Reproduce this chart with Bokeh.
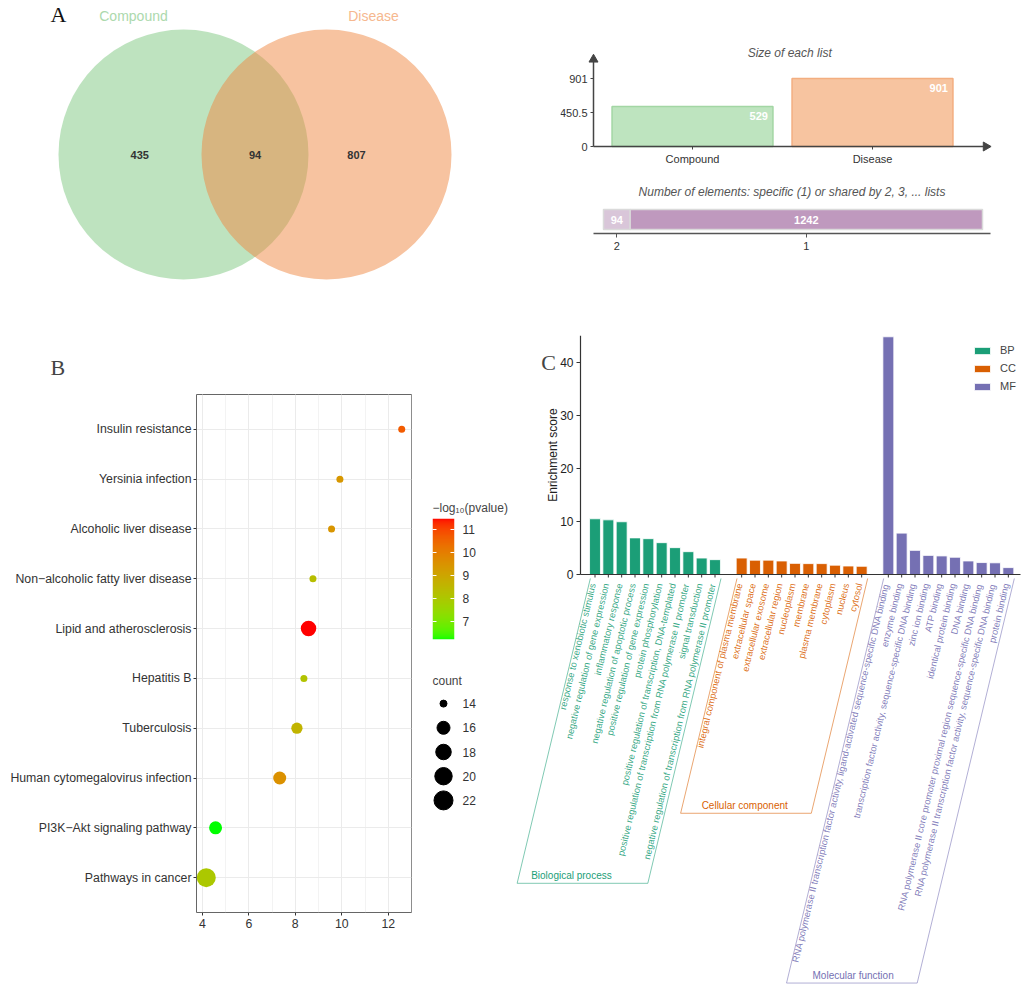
import math
import numpy as np
from bokeh.plotting import figure
from bokeh.layouts import row, column
from bokeh.models import (Range1d, FactorRange, FixedTicker, SingleIntervalTicker,
                          LinearAxis, LinearColorMapper, Label, Legend, LegendItem)
from bokeh.core.properties import value
from bokeh.embed import file_html
from bokeh.resources import INLINE

SANS = "Liberation Sans"
SERIF = "Liberation Serif"

# ================= data : panel A =================
venn_names = ["Compound", "Disease"]
venn_only = [435, 807]
venn_shared = [94]
list_names = ["Compound", "Disease"]
list_sizes = [529, 901]
list_ticks = [0, 450.5, 901]
shared_by = ["2", "1"]
shared_counts = [94, 1242]

# ================= data : panel B =================
pathways = ["Insulin resistance", "Yersinia infection", "Alcoholic liver disease",
            "Non\u2212alcoholic fatty liver disease", "Lipid and atherosclerosis",
            "Hepatitis B", "Tuberculosis", "Human cytomegalovirus infection",
            "PI3K\u2212Akt signaling pathway", "Pathways in cancer"]
path_x = [12.58, 9.92, 9.56, 8.76, 8.57, 8.37, 8.07, 7.33, 4.57, 4.17]
path_logp = [10.7, 9.4, 9.45, 8.3, 11.48, 8.15, 8.6, 9.55, 6.22, 8.0]
path_count = [14, 14, 14, 14, 18, 14, 15, 16, 16, 22]
x_breaks = [4, 6, 8, 10, 12]
logp_breaks = [7, 8, 9, 10, 11]
count_breaks = [14, 16, 18, 20, 22]

# ================= data : panel C =================
go_groups = ["BP", "CC", "MF"]
go_group_names = ["Biological process", "Cellular component", "Molecular function"]
go_colors = ["#1B9E77", "#D95F02", "#7570B3"]
bp_terms = ["response to xenobiotic stimulus", "negative regulation of gene expression",
            "inflammatory response", "negative regulation of apoptotic process",
            "positive regulation of gene expression", "protein phosphorylation",
            "positive regulation of transcription, DNA-templated",
            "positive regulation of transcription from RNA polymerase II promoter",
            "signal transduction",
            "negative regulation of transcription from RNA polymerase II promoter"]
bp_scores = [10.5, 10.3, 9.94, 6.9, 6.75, 6.0, 5.06, 4.3, 3.1, 2.8]
cc_terms = ["integral component of plasma membrane", "extracellular space",
            "extracellular exosome", "extracellular region", "nucleoplasm", "membrane",
            "plasma membrane", "cytoplasm", "nucleus", "cytosol"]
cc_scores = [3.1, 2.7, 2.7, 2.55, 2.1, 2.05, 2.05, 1.75, 1.6, 1.55]
mf_terms = ["RNA polymerase II transcription factor activity, ligand-activated sequence-specific DNA binding",
            "enzyme binding",
            "transcription factor activity, sequence-specific DNA binding",
            "zinc ion binding", "ATP binding", "identical protein binding", "DNA binding",
            "RNA polymerase II core promoter proximal region sequence-specific DNA binding",
            "RNA polymerase II transcription factor activity, sequence-specific DNA binding",
            "protein binding"]
mf_scores = [44.8, 7.8, 4.55, 3.6, 3.5, 3.25, 2.55, 2.25, 2.2, 1.3]
go_enrich_ticks = [0, 10, 20, 30, 40]


def fig(w, h, xr, yr, **kw):
    p = figure(width=w, height=h, x_range=xr, y_range=yr, x_axis_type=None,
               y_axis_type=None, output_backend="svg", toolbar_location=None, **kw)
    p.outline_line_color = None
    return p


def style_axis(ax, size="11px", color="#333333"):
    ax.major_label_text_font = SANS
    ax.major_label_text_font_size = size
    ax.major_label_text_color = color
    ax.minor_tick_line_color = None


# ---------------- colour helpers (CIELAB ramp green -> red) ----------------
_M = np.array([[0.4124564, 0.3575761, 0.1804375],
               [0.2126729, 0.7151522, 0.0721750],
               [0.0193339, 0.1191920, 0.9503041]])
_W = np.array([0.95047, 1.0, 1.08883])


def hex_to_lab(h):
    c = np.array([int(h[i:i + 2], 16) for i in (1, 3, 5)]) / 255.0
    lin = np.where(c <= 0.04045, c / 12.92, ((c + 0.055) / 1.055) ** 2.4)
    xyz = _M @ lin / _W
    f = np.where(xyz > 0.008856, np.cbrt(xyz), 7.787 * xyz + 16 / 116)
    return np.array([116 * f[1] - 16, 500 * (f[0] - f[1]), 200 * (f[1] - f[2])])


def lab_to_hex(lab):
    L, a, b = lab
    fy = (L + 16) / 116
    f = np.array([fy + a / 500, fy, fy - b / 200])
    xyz = np.where(f ** 3 > 0.008856, f ** 3, (f - 16 / 116) / 7.787) * _W
    lin = np.clip(np.linalg.inv(_M) @ xyz, 0, 1)
    c = np.where(lin <= 0.0031308, 12.92 * lin, 1.055 * lin ** (1 / 2.4) - 0.055)
    return "#%02x%02x%02x" % tuple(int(round(v * 255)) for v in np.clip(c, 0, 1))


LAB_LO, LAB_HI = hex_to_lab("#00FF00"), hex_to_lab("#FF0000")


def ramp(t):
    return lab_to_hex(LAB_LO + t * (LAB_HI - LAB_LO))


# ======================= panel A : Venn =======================
VW, VH = 548, 308
venn = fig(VW, VH, Range1d(0, VW), Range1d(VH, 0), min_border=0)
R, CY = 125, 154
CX = [183, 326]
venn.circle(x=CX, y=[CY, CY], radius=R, fill_color=["#7DC87F", "#EF8741"],
            fill_alpha=0.5, line_color=None)
num_x = [CX[0] - 0.35 * R, (CX[1] - R + CX[0] + R) / 2, CX[1] + 0.24 * R]
num_t = [str(venn_only[0]), str(venn_shared[0]), str(venn_only[1])]
venn.text(x=num_x, y=[CY] * 3, text=num_t, text_font=value(SANS), text_font_style="bold",
          text_font_size="11px", text_color="#333333", text_align="center",
          text_baseline="middle")
venn.text(x=[CX[0] - 0.4 * R, CX[1] + 0.376 * R], y=[CY - R - 14] * 2, text=venn_names,
          text_font=value(SANS), text_font_size="14px", text_color=["#ACD9AD", "#F6B88F"],
          text_align="center", text_baseline="middle")
venn.text(x=[58], y=[1], text=["A"], text_font=value(SERIF), text_font_size="22px",
          text_color="#111111", text_align="center", text_baseline="top")

# ======================= panel A : size of each list =======================
S_AX, S_PX, S_PY = -0.55, 180.0, 68 / 901
size_fig = fig(476, 178, Range1d(S_AX - 33 / S_PX, S_AX + 411 / S_PX),
               Range1d(-22 / S_PY, 104 / S_PY),
               min_border_left=12, min_border_right=20, min_border_top=42, min_border_bottom=10)
s_tip_y = max(list_sizes) * 1.28
s_tip_x = len(list_sizes) - 1 + 0.63
list_x = list(range(len(list_sizes)))
size_fig.vbar(x=list_x, width=0.894, top=list_sizes, fill_color=["#BEE4BF", "#F7C4A0"],
              line_color=["#A3D6A4", "#F3AE80"], line_width=1.5)
size_fig.text(x=[x + 0.447 for x in list_x], y=list_sizes, text=[str(v) for v in list_sizes],
              x_offset=-5, y_offset=5, text_align="right", text_baseline="top",
              text_font=value(SANS), text_font_style="bold", text_font_size="11px",
              text_color="white")
size_fig.text(x=[(S_AX + s_tip_x) / 2], y=[104 / S_PY], text=["Size of each list"], y_offset=3,
              text_align="center", text_baseline="top", text_font=value(SANS),
              text_font_style="italic", text_font_size="12px", text_color="#555555")
yax = LinearAxis(ticker=FixedTicker(ticks=list_ticks), fixed_location=S_AX, bounds=(0, s_tip_y))
yax.major_label_overrides = {t: ("%g" % t) for t in list_ticks}
xax = LinearAxis(ticker=FixedTicker(ticks=list_x), fixed_location=0, bounds=(S_AX, s_tip_x))
xax.major_label_overrides = {i: n for i, n in enumerate(list_names)}
for ax in (yax, xax):
    style_axis(ax)
    ax.axis_line_color = "#444444"
    ax.axis_line_width = 1.5
    ax.major_tick_line_color = "#444444"
    ax.major_tick_in = 0
    ax.major_tick_out = 3
    ax.major_label_standoff = 3
size_fig.add_layout(yax, "left")
size_fig.add_layout(xax, "below")
size_fig.scatter(x=[S_AX], y=[s_tip_y], marker="triangle", size=9, color="#444444")
size_fig.scatter(x=[s_tip_x], y=[0], marker="triangle", size=9, color="#444444",
                 angle=-math.pi / 2)

# ======================= panel A : shared counts =======================
total = sum(shared_counts)
C_PX = 379 / total
cnt_fig = fig(476, 130, Range1d(-43 / C_PX, total + 22 / C_PX), Range1d(-67, 49),
              min_border_left=12, min_border_right=20, min_border_top=6, min_border_bottom=8)
cum = np.cumsum(shared_counts)
lefts = list(cum - np.array(shared_counts))
rights = list(cum)
centers = [float(c) for c in (cum - np.array(shared_counts) / 2)]
cnt_fig.hbar(y=14, height=20, left=lefts, right=rights, fill_color=["#D9C6D9", "#BF99BE"],
             line_color="#DADADA", line_width=1.5)
cnt_fig.text(x=centers, y=[14] * len(centers), text=[str(v) for v in shared_counts],
             text_align="center", text_baseline="middle", text_font=value(SANS),
             text_font_style="bold", text_font_size="11px", text_color="white")
c_ax0, c_ax1 = -10 / C_PX, total + 8 / C_PX
cnt_fig.text(x=[(c_ax0 + c_ax1) / 2], y=[42], text=["Number of elements: specific (1) or shared by 2, 3, ... lists"],
             text_align="center", text_baseline="middle", text_font=value(SANS),
             text_font_style="italic", text_font_size="12px", text_color="#555555")
cax = LinearAxis(ticker=FixedTicker(ticks=centers), fixed_location=0, bounds=(c_ax0, c_ax1))
cax.major_label_overrides = {c: s for c, s in zip(centers, shared_by)}
style_axis(cax)
cax.axis_line_color = "#555555"
cax.axis_line_width = 1.5
cax.major_tick_line_color = "#555555"
cax.major_tick_in = 0
cax.major_tick_out = 4
cax.major_label_standoff = 4
cnt_fig.add_layout(cax, "below")

# ======================= panel B : dot plot =======================
vmin, vmax = min(path_logp), max(path_logp)
cmin, cmax = min(path_count), max(path_count)


def dot_diam(c):
    return list(7 + 12 * np.sqrt((np.asarray(c, float) - cmin) / (cmax - cmin)))


dot_cols = [ramp((v - vmin) / (vmax - vmin)) for v in path_logp]
xr_lo = min(path_x) - 0.05 * (max(path_x) - min(path_x))
xr_hi = max(path_x) + 0.05 * (max(path_x) - min(path_x))
dot = figure(width=418, height=677, x_range=Range1d(xr_lo, xr_hi),
             y_range=FactorRange(factors=list(reversed(pathways)), range_padding=0.2,
                                 range_padding_units="absolute"),
             output_backend="svg", toolbar_location=None,
             min_border_left=196, min_border_right=7, min_border_top=86, min_border_bottom=73)
dot.scatter(x=path_x, y=pathways, size=dot_diam(path_count), fill_color=dot_cols, line_color=None)
dot.xaxis.ticker = SingleIntervalTicker(interval=2, num_minor_ticks=2)
for ax in (dot.xaxis[0], dot.yaxis[0]):
    style_axis(ax, "12.3px", "#333333")
    ax.axis_line_color = None
    ax.major_tick_line_color = "#333333"
    ax.major_tick_in = 0
    ax.major_tick_out = 3
    ax.major_label_standoff = 2
dot.xgrid.grid_line_color = "#EBEBEB"
dot.xgrid.minor_grid_line_color = "#EBEBEB"
dot.xgrid.minor_grid_line_width = 0.6
dot.ygrid.grid_line_color = "#EBEBEB"
dot.outline_line_color = "#666666"
dot.title.text = "B"
dot.title.text_font = SERIF
dot.title.text_font_size = "22px"
dot.title.text_font_style = "normal"
dot.title.align = "left"
dot.title.offset = -146
dot.title.standoff = 30

# colour bar
cb = fig(92, 352, Range1d(0, 1), Range1d(vmin, vmax),
         min_border_left=14, min_border_right=56, min_border_top=210, min_border_bottom=21)
palette = [ramp(t) for t in np.linspace(0, 1, 256)]
mapper = LinearColorMapper(palette=palette, low=vmin, high=vmax)
cb.image(image=[np.linspace(vmin, vmax, 256).reshape(-1, 1)], x=0, y=vmin, dw=1,
         dh=vmax - vmin, color_mapper=mapper)
cbr = LinearAxis(ticker=FixedTicker(ticks=logp_breaks))
cbl = LinearAxis(ticker=FixedTicker(ticks=logp_breaks))
cbl.major_label_overrides = {t: "" for t in logp_breaks}
for ax in (cbr, cbl):
    style_axis(ax, "12px", "#333333")
    ax.axis_line_color = None
    ax.major_tick_line_color = "white"
    ax.major_tick_in = 4
    ax.major_tick_out = 0
    ax.major_label_standoff = 8
cbl.major_label_standoff = 0
cb.add_layout(cbr, "right")
cb.add_layout(cbl, "left")
cb.title.text = "\u2212log\u2081\u2080(pvalue)"
cb.title.text_font = SANS
cb.title.text_font_size = "12px"
cb.title.text_font_style = "normal"
cb.title.align = "left"
cb.title.standoff = 8

# size legend
sz = fig(92, 325, Range1d(0, 1), Range1d(max(count_breaks) + 1, min(count_breaks) - 1),
         min_border_left=14, min_border_right=56, min_border_top=31, min_border_bottom=173)
sz.scatter(x=[0.5] * len(count_breaks), y=count_breaks, size=dot_diam(count_breaks),
           color="black")
sza = LinearAxis(ticker=FixedTicker(ticks=count_breaks))
style_axis(sza, "12px", "#333333")
sza.axis_line_color = None
sza.major_tick_line_color = None
sza.major_tick_out = 0
sza.major_label_standoff = 8
sz.add_layout(sza, "right")
sz.title.text = "count"
sz.title.text_font = SANS
sz.title.text_font_size = "12px"
sz.title.text_font_style = "normal"
sz.title.align = "left"
sz.title.standoff = 7

# ======================= panel C : GO bars =======================
groups_scores = [bp_scores, cc_scores, mf_scores]
groups_terms = [bp_terms, cc_terms, mf_terms]
slots = []
k = 0
for sc in groups_scores:
    slots.append(list(range(k, k + len(sc))))
    k += len(sc) + 1
PXX, PXY = 40 / 3, 5.306          # px per slot, px per score unit
G_AX = -1.0875                    # y-axis position (slot units)
GX0, GX1 = G_AX - 70 / PXX, G_AX + 444 / PXX
GY1 = 239 / PXY
GY0 = -411 / PXY
go = fig(514, 677, Range1d(GX0, GX1), Range1d(GY0, GY1),
         min_border_left=0, min_border_right=0, min_border_top=27, min_border_bottom=0)
ANG = math.radians(76.5)
SLANT = 1 / math.tan(ANG)
depths = [58.2, 45.0, 77.0]
name_dx = [14, 21, 26]
renderers = []
for g in range(3):
    col = go_colors[g]
    r = go.vbar(x=slots[g], width=0.82, top=groups_scores[g], fill_color=col,
                line_color="white", line_width=0.8)
    renderers.append(r)
    go.text(x=slots[g], y=[0] * len(slots[g]), text=groups_terms[g], angle=ANG,
            text_align="right", text_baseline="middle", x_offset=-2, y_offset=9,
            text_font=value(SANS), text_font_size="9.3px", text_color=col, text_alpha=0.9)
    top = -0.75
    d = depths[g]
    dx = (d + top) * PXY * SLANT / PXX
    xl, xr = slots[g][0] - 0.35, slots[g][-1] + 0.45
    bx = [xl, xl - dx, xr - dx, xr]
    by = [top, -d, -d, top]
    go.line(x=bx, y=by, line_color=col, line_width=0.8, line_alpha=0.7)
    go.text(x=[bx[1]], y=[-d], text=[go_group_names[g]], x_offset=name_dx[g], y_offset=-8,
            text_align="left", text_baseline="middle", text_font=value(SANS),
            text_font_size="10px", text_color=col)
all_slots = [s for grp in slots for s in grp]
go.segment(x0=[G_AX], y0=[0], x1=[G_AX + 440 / PXX], y1=[0], line_color="#333333",
           line_width=1.2)
go.segment(x0=all_slots, y0=[0] * len(all_slots), x1=all_slots,
           y1=[-3 / PXY] * len(all_slots), line_color="#333333", line_width=1)
gya = LinearAxis(ticker=FixedTicker(ticks=go_enrich_ticks), bounds=(0, GY1), fixed_location=G_AX)
style_axis(gya, "12px", "#222222")
gya.axis_line_color = "#333333"
gya.axis_line_width = 1.2
gya.major_tick_line_color = "#333333"
gya.major_tick_in = 0
gya.major_tick_out = 4
gya.major_label_standoff = 3
go.add_layout(gya, "left")
go.text(x=[G_AX - 28 / PXX], y=[(max(go_enrich_ticks) + 5) / 2], text=["Enrichment score"],
        angle=math.pi / 2, text_align="center", text_baseline="middle",
        text_font=value(SANS), text_font_size="12px", text_color="#222222")
leg = Legend(items=[LegendItem(label=n, renderers=[r]) for n, r in zip(go_groups, renderers)],
             location=(462, 593), glyph_width=20, glyph_height=9, label_height=12,
             label_width=10, spacing=6, padding=0, margin=0, border_line_color=None,
             background_fill_alpha=0, label_text_font=SANS, label_text_font_size="11px",
             label_standoff=8)
go.add_layout(leg)
go.add_layout(Label(x=G_AX - 32 / PXX, y=(574 - 362) / PXY, text="C", text_font=SERIF,
                    text_font_size="22px", text_align="center", text_baseline="middle"))

layout = column(row(venn, column(size_fig, cnt_fig)),
                row(column(dot), column(cb, sz), column(go)))
open("out.html", "w").write(file_html(layout, INLINE))
